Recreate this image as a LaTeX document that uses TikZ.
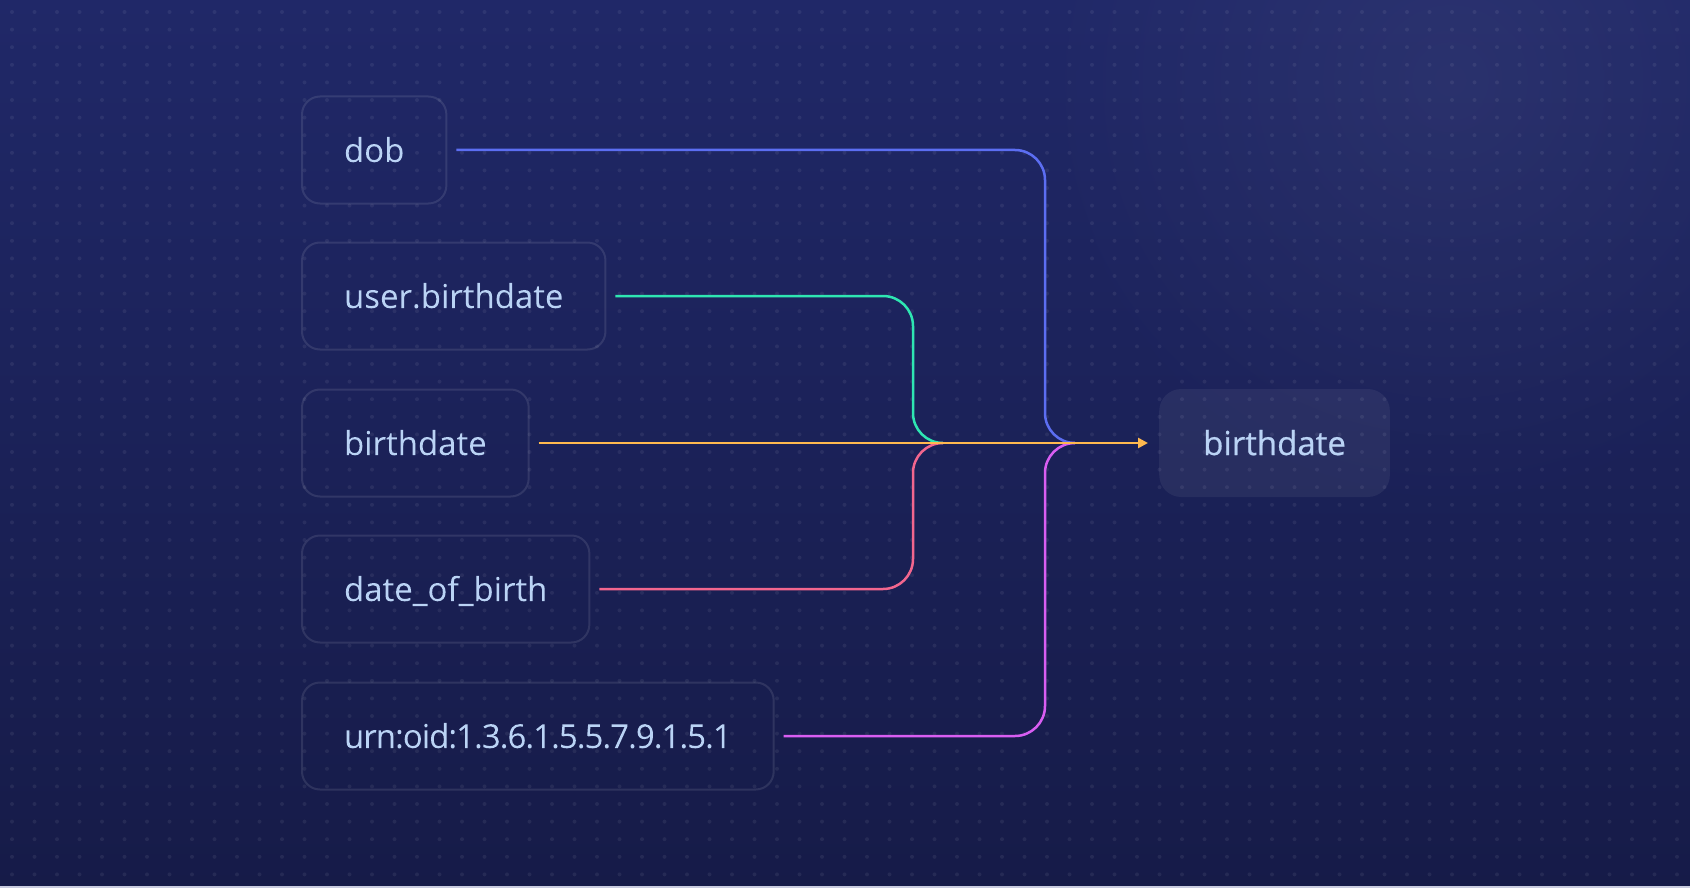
\documentclass[tikz,border=0pt]{standalone}
\usepackage{fontspec}
\setmainfont{Open Sans}
\newfontfamily\feldfont{Open Sans}[FakeBold=0.6]
\usetikzlibrary{arrows.meta}

\definecolor{bgoben}{HTML}{202868}
\definecolor{bgunten}{HTML}{161B48}
\definecolor{schrift}{HTML}{BAD3F5}
\definecolor{blaulinie}{HTML}{5C6EF2}
\definecolor{tuerkis}{HTML}{2EE6B2}
\definecolor{gelb}{HTML}{FFB94F}
\definecolor{rosa}{HTML}{F2668E}
\definecolor{magenta}{HTML}{D85EF2}
\definecolor{randlinie}{HTML}{C9CCE0}

\begin{document}
\begin{tikzpicture}[x=1pt,y=-1pt,
		feld/.style={draw=white,draw opacity=0.1,line width=2pt,rounded corners=18pt,
			anchor=west,minimum height=107pt,inner xsep=42pt,text height=24pt,text depth=0pt,
			text=schrift,font=\feldfont\fontsize{33}{40}\selectfont},
		ziel/.style={fill=white,fill opacity=0.06,text opacity=1,rounded corners=22pt,
			anchor=west,minimum height=108pt,inner xsep=44pt,text height=24pt,text depth=0pt,
			text=schrift,font=\feldfont\fontsize{33}{40}\selectfont},
		linie/.style={line width=2.5pt,rounded corners=30pt,shorten <=9pt}]

			% Hintergrund
			\useasboundingbox (0,0) rectangle (1690,888);
			\shade[top color=bgoben,bottom color=bgunten] (0,0) rectangle (1690,888);
			\shade[inner color=white,outer color=bgoben,opacity=0.05] (1450,80) circle (420);
			\foreach \i in {0,...,75}
				\foreach \j in {0,...,49}
					\fill[white,opacity=0.065] (12+22.5*\i,12+17.6*\j) circle (2);
			\fill[randlinie] (0,886) rectangle (1690,888);

			% Quellfelder
			\node[feld] (dob) at (301,150) {dob};
			\node[feld] (ub) at (301,296) {user.birthdate};
			\node[feld] (bd) at (301,443) {birthdate};
			\node[feld] (dofb) at (301,589) {date\_of\_birth};
			\node[feld] (urn) at (301,736) {\addfontfeature{LetterSpace=-3}urn:oid:1.3.6.1.5.5.7.9.1.5.1};

			% Zielfeld
			\node[ziel] (out) at (1159,443) {birthdate};

			% Knickpunkte
			\coordinate (jA) at (913,443);
			\coordinate (jB) at (1045,443);
			\coordinate (mA) at (943,443);
			\coordinate (mB) at (1075,443);

			% Verbindungen
			\draw[linie,blaulinie] (dob.east) -| (jB) -- (mB);
			\draw[linie,tuerkis] (ub.east) -| (jA) -- (mA);
			\draw[linie,rosa] (dofb.east) -| (jA) -- (mA);
			\draw[linie,magenta] (urn.east) -| (jB) -- (mB);
			\draw[linie,gelb,shorten >=11pt,-{Triangle[length=10pt,width=10pt]}] (bd.east) -- (out.west);

		\end{tikzpicture}
\end{document}
